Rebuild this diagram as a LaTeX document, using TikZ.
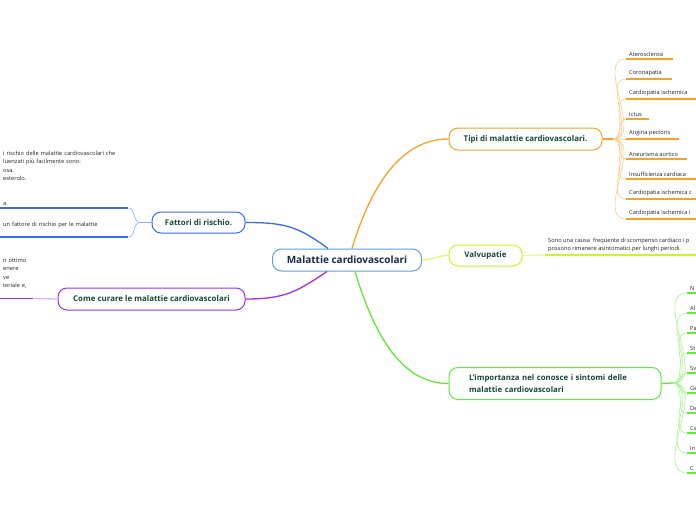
\documentclass[tikz,border=0pt]{standalone}
\usepackage{fontspec}
\setmainfont{Open Sans}
\usetikzlibrary{positioning}

\definecolor{bordoblu}{RGB}{95,160,220}
\definecolor{blunotte}{RGB}{25,40,75}
\definecolor{verdescuro}{RGB}{22,72,58}
\definecolor{grigio}{RGB}{35,35,35}
\definecolor{arancio}{RGB}{248,162,35}
\definecolor{blu}{RGB}{55,105,250}
\definecolor{viola}{RGB}{160,45,240}
\definecolor{lime}{RGB}{205,245,35}
\definecolor{verde}{RGB}{95,235,55}

\begin{document}
\begin{tikzpicture}[x=1pt,y=-1pt,
        ramo/.style={line width=1.3pt},
        rametto/.style={line width=0.6pt},
        argomento/.style={draw,line width=1pt,rounded corners=9pt,fill=white,
            inner sep=0pt,text=verdescuro,
            font=\fontsize{7.9}{9}\selectfont\bfseries},
        foglia/.style={anchor=south west,inner xsep=3pt,inner ysep=2.5pt,
            align=left,text=grigio,font=\fontsize{5.7}{8.3}\selectfont}]

    \useasboundingbox (0,0) rectangle (696,520);

    % nodi principali
    \node[argomento,draw=bordoblu,text=blunotte,minimum width=149pt,minimum height=22pt,
        font=\fontsize{10}{11}\selectfont\bfseries] (centro) at (347,260) {Malattie cardiovascolari};
    \node[argomento,draw=arancio,minimum width=153pt,minimum height=22pt] (tipi) at (525.5,139) {Tipi di malattie cardiovascolari.};
    \node[argomento,draw=blu,minimum width=93pt,minimum height=21pt] (fattori) at (198.5,222.5) {Fattori di rischio.};
    \node[argomento,draw=viola,minimum width=187pt,minimum height=22pt] (curare) at (151.5,299) {Come curare le malattie cardiovascolari};
    \node[argomento,draw=lime,minimum width=73pt,minimum height=21pt] (valvu) at (485.5,255.5) {Valvupatie};
    \node[argomento,draw=verde,minimum width=212pt,minimum height=32pt,
        text width=172pt,align=left,font=\fontsize{7.8}{12}\selectfont\bfseries] (sintomi) at (555,383.5)
        {L’importanza nel conosce i sintomi delle\\malattie cardiovascolari};

    % rami dal centro
    \draw[ramo,arancio] ([xshift=5pt]centro.north) .. controls +(20,-66) and +(-46,0) .. (tipi.west);
    \draw[ramo,verde] ([xshift=8pt]centro.south) .. controls +(20,66) and +(-46,0) .. (sintomi.west);
    \draw[ramo,blu] ([xshift=-19pt]centro.north) .. controls +(-30,-22) and +(40,0) .. (fattori.east);
    \draw[ramo,viola] ([xshift=-20pt]centro.south) .. controls +(-30,20) and +(40,0) .. (curare.east);
    \draw[ramo,lime!60] (centro.east) .. controls +(12,0) and +(-12,0) .. (valvu.west);

    % tipi di malattie
    \coordinate (snodotipi) at (613,139);
    \draw[ramo,arancio] (tipi.east) -- (snodotipi);
    \foreach \nome/\fine [count=\i] in {Aterosclerosi/673,Coronapatia/672,
        Cardiopatia ischemica/696,Ictus/649,Angina pectoris/679,Aneurisma aortico/687,
        Insufficienza cardiaca/696,Cardiopatia ischemica c/696,Cardiopatia ischemica i/696} {
            \node[foglia] (tipo\i) at (626,{39+20*\i}) {\nome};
            \coordinate (finetipo\i) at (\fine,{39+20*\i});
            \draw[rametto,arancio!55] (snodotipi) to[out=0,in=180] (tipo\i.south west);
            \draw[ramo,arancio] (tipo\i.south west) -- (finetipo\i);
        }

    % sintomi
    \coordinate (snodosintomi) at (673,383);
    \foreach \nome [count=\i] in {N,Al,Pa,St,Sv,Ge,De,Ca,In,C} {
            \node[foglia] (sintomo\i) at (687,{273+20*\i}) {\nome};
            \coordinate (finesintomo\i) at (696,{273+20*\i});
            \draw[rametto,verde!55] (snodosintomi) to[out=0,in=180] (sintomo\i.south west);
            \draw[ramo,verde] (sintomo\i.south west) -- (finesintomo\i);
        }
    \draw[ramo,verde] (sintomi.east) -- (snodosintomi);

    % valvupatie
    \node[foglia] (causa) at (545,255)
        {Sono una causa \ frequente di scompenso cardiaco i p\\possono rimanere asintomatici per lunghi periodi.};
    \coordinate (finecausa) at (696,255);
    \draw[ramo,lime!50] (valvu.east) -- (causa.south west);
    \draw[ramo,lime] (causa.south west) -- (finecausa);

    % fattori di rischio
    \coordinate (snodofattori) at (140,222.5);
    \draw[rametto,blu!55] (fattori.west) -- (snodofattori);
    \node[foglia,text width=122pt] (fattore1) at (0,208)
        {i rischio delle malattie cardiovascolari che\\luenzati più facilmente sono:\\osa.\\esterolo.\\[16.6pt]a.};
    \node[foglia,text width=122pt] (fattore2) at (0,237)
        {un fattore di rischio per le malattie\\\mbox{}};
    \foreach \i in {1,2} {
            \draw[rametto,blu!55] (snodofattori) to[out=180,in=0] (fattore\i.south east);
            \draw[ramo,blu] (fattore\i.south west) -- (fattore\i.south east);
        }

    % come curare
    \node[foglia,text width=27pt] (cura) at (0,298.5)
        {n ottimo\\enere\\ve\\teriale e,\\\mbox{}};
    \draw[ramo,viola!35] (curare.west) -- (cura.south east);
    \draw[ramo,viola] (cura.south west) -- (cura.south east);
\end{tikzpicture}
\end{document}
